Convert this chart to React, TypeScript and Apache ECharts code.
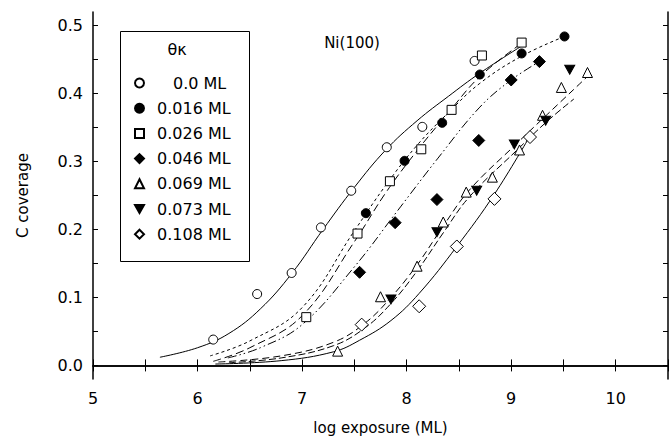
import React, { useEffect, useRef } from "react";
import * as echarts from "echarts";

// ---- tick values / labels ----
const xLabelValues = [5, 6, 7, 8, 9, 10];
const xTickValues = [5, 5.5, 6, 6.5, 7, 7.5, 8, 8.5, 9, 9.5, 10, 10.5];
const yLabelValues = [0, 0.1, 0.2, 0.3, 0.4, 0.5];
const yTickValues = [0, 0.05, 0.1, 0.15, 0.2, 0.25, 0.3, 0.35, 0.4, 0.45, 0.5];

// ---- series names ----
const seriesNames = ["0.0 ML", "0.016 ML", "0.026 ML", "0.046 ML", "0.069 ML", "0.073 ML", "0.108 ML"];

// ---- measured points (log exposure, C coverage) ----
const pts000 = [[6.15, 0.038], [6.57, 0.105], [6.9, 0.136], [7.18, 0.203], [7.47, 0.257], [7.81, 0.321], [8.15, 0.351], [8.65, 0.448]];
const pts016 = [[7.61, 0.224], [7.98, 0.301], [8.34, 0.357], [8.7, 0.428], [9.1, 0.459], [9.51, 0.484]];
const pts026 = [[7.04, 0.071], [7.53, 0.194], [7.84, 0.271], [8.14, 0.318], [8.43, 0.376], [8.72, 0.456], [9.1, 0.475]];
const pts046 = [[7.55, 0.137], [7.89, 0.21], [8.29, 0.244], [8.69, 0.331], [9.0, 0.42], [9.27, 0.447]];
const pts069 = [[7.34, 0.021], [7.75, 0.101], [8.1, 0.146], [8.35, 0.211], [8.57, 0.255], [8.82, 0.277], [9.08, 0.317], [9.3, 0.368], [9.48, 0.409], [9.73, 0.431]];
const pts073 = [[7.85, 0.097], [8.29, 0.196], [8.67, 0.257], [9.03, 0.325], [9.33, 0.36], [9.56, 0.435]];
const pts108 = [[7.57, 0.06], [8.12, 0.087], [8.48, 0.175], [8.84, 0.245], [9.18, 0.336]];

// ---- fitted curves ----
const fit000 = [[5.64, 0.012], [6.0, 0.026], [6.3, 0.047], [6.6, 0.083], [6.9, 0.135], [7.2, 0.2], [7.5, 0.262], [7.8, 0.317], [8.1, 0.36], [8.4, 0.396], [8.7, 0.43], [9.1, 0.47]];
const fit016 = [[6.12, 0.014], [6.5, 0.036], [7.0, 0.085], [7.5, 0.198], [7.8, 0.265], [8.1, 0.324], [8.4, 0.372], [8.7, 0.415], [9.1, 0.455], [9.51, 0.484]];
const fit026 = [[6.15, 0.006], [6.5, 0.026], [7.0, 0.073], [7.5, 0.182], [7.8, 0.254], [8.1, 0.316], [8.4, 0.372], [8.7, 0.425], [9.1, 0.474]];
const fit046 = [[6.29, 0.011], [6.6, 0.026], [7.0, 0.06], [7.5, 0.145], [7.9, 0.225], [8.3, 0.305], [8.7, 0.38], [9.0, 0.42], [9.27, 0.447]];
const fit069 = [[6.2, 0.005], [6.8, 0.014], [7.3, 0.034], [7.6, 0.062], [7.85, 0.1], [8.1, 0.148], [8.35, 0.205], [8.6, 0.258], [9.05, 0.326], [9.35, 0.37], [9.75, 0.428]];
const fit073 = [[6.3, 0.004], [6.8, 0.011], [7.3, 0.029], [7.6, 0.055], [7.85, 0.091], [8.1, 0.139], [8.35, 0.195], [8.6, 0.248], [9.05, 0.316], [9.35, 0.36], [9.6, 0.392]];
const fit108 = [[6.17, 0.002], [6.8, 0.007], [7.3, 0.02], [7.55, 0.037], [7.85, 0.066], [8.12, 0.106], [8.48, 0.175], [8.84, 0.252], [9.17, 0.335]];

const allPoints = [pts000, pts016, pts026, pts046, pts069, pts073, pts108];
const allFits = [fit000, fit016, fit026, fit046, fit069, fit073, fit108];

// ---- styles ----
const markerStyles = [
  { symbol: "circle", size: 9, fill: "#fff" },
  { symbol: "circle", size: 9, fill: "#000" },
  { symbol: "rect", size: 9, fill: "#fff" },
  { symbol: "diamond", size: 12, fill: "#000" },
  { symbol: "triangle", size: 10, fill: "#fff" },
  { symbol: "path://M0,0 L10,0 L5,9 Z", size: [10, 9], fill: "#000" },
  { symbol: "diamond", size: 13, fill: "#fff" },
];
const lineTypes: any[] = [
  "solid",
  [3, 3],
  [8, 4],
  [9, 3, 1.5, 3, 1.5, 3],
  [7, 4],
  [7, 3],
  "solid",
];

const FONT = "DejaVu Sans";

export default function App() {
  const ref = useRef<HTMLDivElement>(null);
  useEffect(() => {
    if (!ref.current) return;
    const chart = echarts.init(ref.current, undefined, { renderer: "svg" });

    const scatterSeries = seriesNames.map((name, i) => ({
      name,
      type: "scatter",
      data: allPoints[i],
      symbol: markerStyles[i].symbol,
      symbolSize: markerStyles[i].size,
      itemStyle: { color: markerStyles[i].fill, borderColor: "#000", borderWidth: 1, opacity: 1 },
      z: 3,
      silent: true,
    }));
    const lineSeries = seriesNames.map((name, i) => ({
      name: name + " fit",
      type: "line",
      data: allFits[i],
      smooth: 0.4,
      symbol: "none",
      showSymbol: false,
      lineStyle: { color: "#000", width: 1, type: lineTypes[i] },
      z: 2,
      silent: true,
    }));

    const axisLine = { show: true, lineStyle: { color: "#000", width: 1.5 } };

    chart.setOption({
      animation: false,
      backgroundColor: "#fff",
      grid: { left: 93, right: 1, top: 12, bottom: 57, containLabel: false },
      xAxis: [
        {
          type: "value",
          min: 5,
          max: 10.5,
          interval: 1,
          position: "bottom",
          axisLine,
          axisTick: { show: true, inside: true, length: 6, customValues: xTickValues, lineStyle: { color: "#000", width: 1 } },
          axisLabel: { customValues: xLabelValues, fontSize: 16, color: "#000", fontFamily: FONT, margin: 11 },
          splitLine: { show: false },
          name: "log exposure (ML)",
          nameLocation: "middle",
          nameGap: 41,
          nameTextStyle: { fontSize: 15, color: "#000", fontFamily: FONT },
        },
        {
          type: "value",
          min: 5,
          max: 10.5,
          interval: 1,
          position: "top",
          axisLine,
          axisTick: { show: true, inside: true, length: 6, customValues: xTickValues, lineStyle: { color: "#000", width: 1 } },
          axisLabel: { show: false },
          splitLine: { show: false },
        },
      ],
      yAxis: [
        {
          type: "value",
          min: -0.02,
          max: 0.52,
          position: "left",
          axisLine,
          axisTick: { show: true, inside: true, length: 5, customValues: yTickValues, lineStyle: { color: "#000", width: 1 } },
          axisLabel: {
            customValues: yLabelValues,
            fontSize: 16,
            color: "#000",
            fontFamily: FONT,
            margin: 10,
            formatter: (v: number) => v.toFixed(1),
          },
          splitLine: { show: false },
          name: "C coverage",
          nameLocation: "middle",
          nameGap: 63,
          nameRotate: 90,
          nameTextStyle: { fontSize: 15, color: "#000", fontFamily: FONT },
        },
        {
          type: "value",
          min: -0.02,
          max: 0.52,
          position: "right",
          axisLine,
          axisTick: { show: true, inside: true, length: 5, customValues: yTickValues, lineStyle: { color: "#000", width: 1 } },
          axisLabel: { show: false },
          splitLine: { show: false },
        },
      ],
      legend: {
        data: seriesNames,
        orient: "vertical",
        left: 129,
        top: 70,
        itemWidth: 9,
        itemHeight: 9,
        itemGap: 9.2,
        selectedMode: false,
        formatter: (name: string) => (name === "0.0 ML" ? "{b|" + name + "}" : "{a|" + name + "}"),
        textStyle: {
          fontSize: 16,
          color: "#000",
          fontFamily: FONT,
          rich: {
            a: { fontSize: 16, color: "#000", fontFamily: FONT, padding: [0, 0, 0, 8] },
            b: { fontSize: 16, color: "#000", fontFamily: FONT, padding: [0, 0, 0, 24] },
          },
        },
      },
      graphic: [
        {
          type: "rect",
          left: 118,
          top: 29,
          shape: { width: 129, height: 230 },
          style: { fill: "none", stroke: "#000", lineWidth: 1 },
          z: 10,
        },
        {
          type: "text",
          x: 177,
          y: 49,
          style: { text: "θκ", fill: "#000", font: "16px DejaVu Sans", textAlign: "center", textVerticalAlign: "middle" },
          z: 10,
        },
        {
          type: "text",
          x: 352,
          y: 43,
          style: { text: "Ni(100)", fill: "#000", font: "15px DejaVu Sans", textAlign: "center", textVerticalAlign: "middle" },
          z: 10,
        },
      ],
      series: [...lineSeries, ...scatterSeries],
    });
    return () => chart.dispose();
  }, []);
  return <div ref={ref} style={{ position: "fixed", left: 0, top: 0, width: 669, height: 440 }} />;
}
